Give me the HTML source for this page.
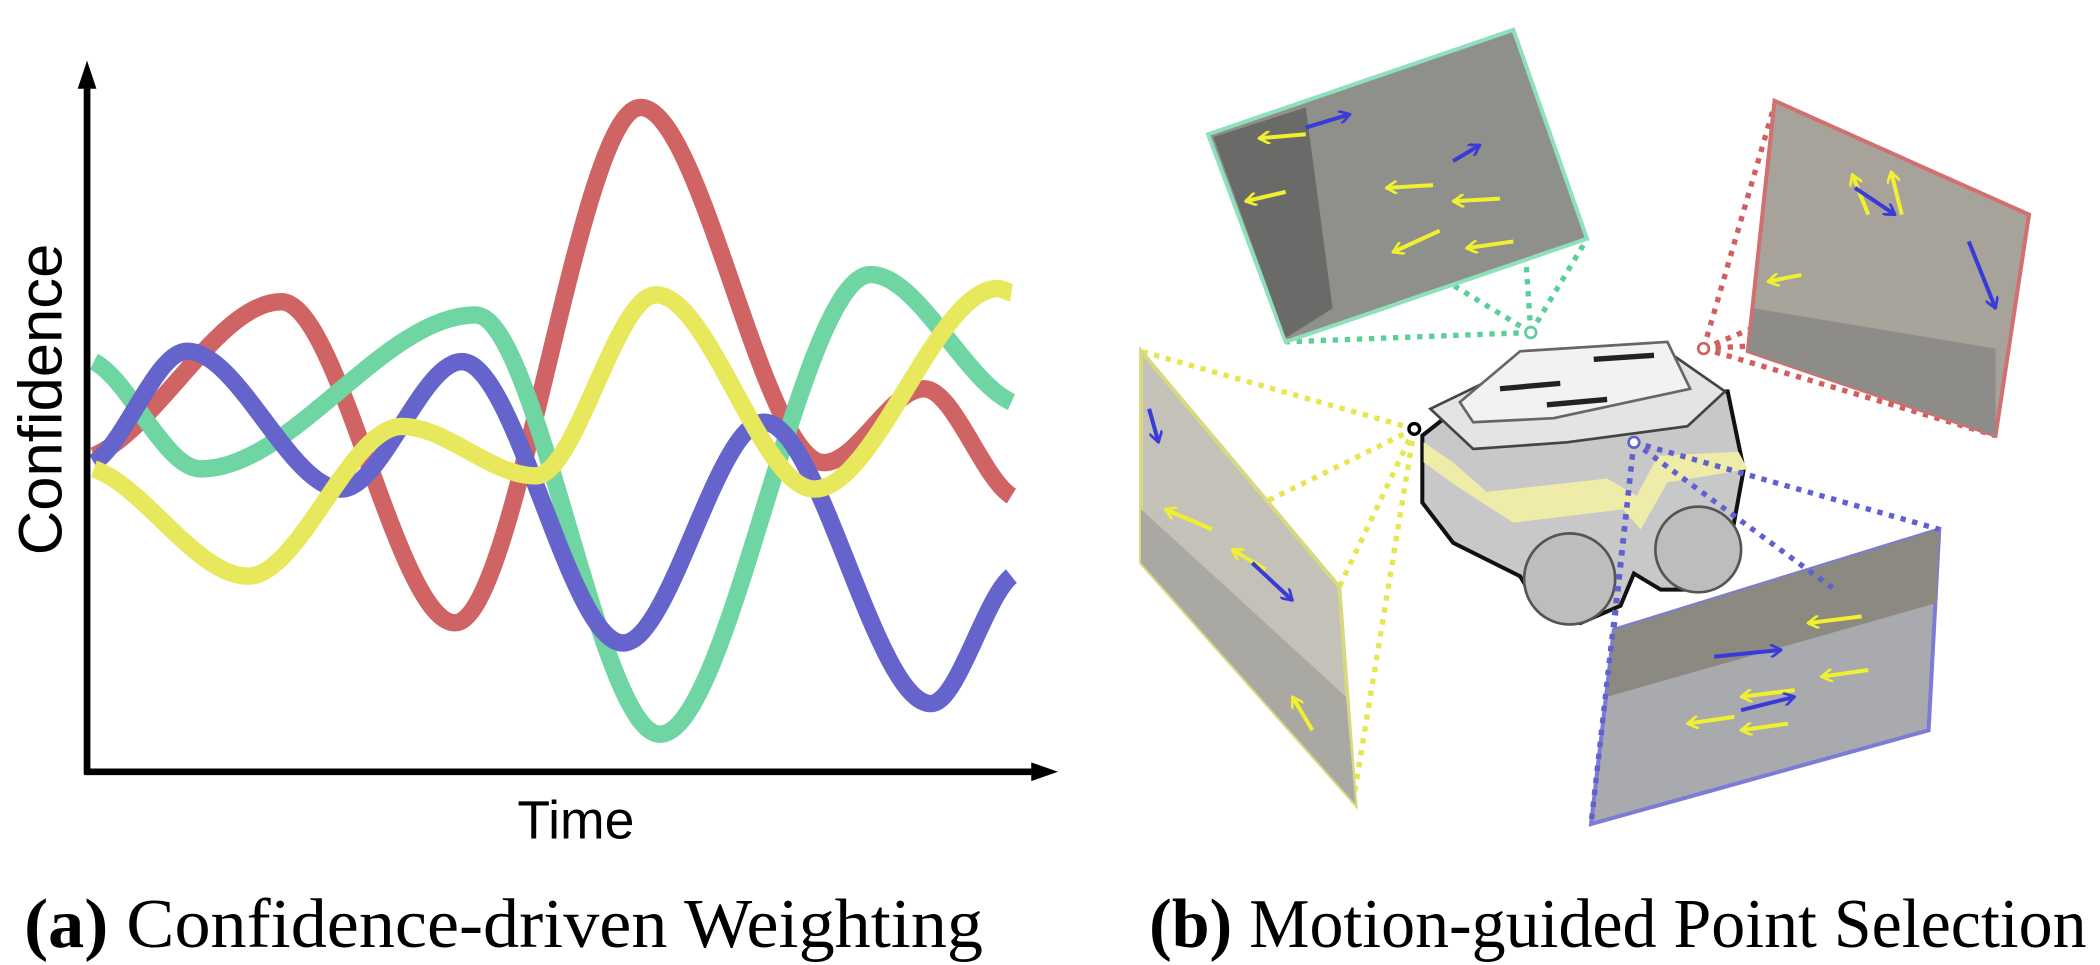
<!DOCTYPE html>
<html><head><meta charset="utf-8"><style>
html,body{margin:0;padding:0;background:#fff;}
svg{display:block;}
</style></head><body>
<svg width="2100" height="965" viewBox="0 0 1568 720" xmlns="http://www.w3.org/2000/svg">
<defs>
<marker id="ah" markerWidth="20" markerHeight="16" refX="4" refY="8" orient="auto" markerUnits="userSpaceOnUse"><path d="M0,0 L20,8 L0,16 z" fill="#000"/></marker>
<marker id="ya" markerWidth="10" markerHeight="10" refX="1" refY="5" orient="auto" markerUnits="userSpaceOnUse"><path d="M9,0 L1,5 L9,10" fill="none" stroke="#f0f030" stroke-width="2"/></marker>
<marker id="ba" markerWidth="10" markerHeight="10" refX="9" refY="5" orient="auto" markerUnits="userSpaceOnUse"><path d="M1,0 L9,5 L1,10" fill="none" stroke="#3a3ad8" stroke-width="2"/></marker>
</defs>

<g id="chart"></g>
<line x1="65" y1="578" x2="65" y2="62" stroke="#000" stroke-width="5"/>
<polygon points="58,66 65,45 72,66" fill="#000"/>
<line x1="63" y1="576" x2="775" y2="576" stroke="#000" stroke-width="5"/>
<polygon points="770,569 790,576 770,583" fill="#000"/>
<text transform="translate(46,298) rotate(-90)" text-anchor="middle" font-family="Liberation Sans, sans-serif" font-size="46">Confidence</text>
<text x="430" y="626" text-anchor="middle" font-family="Liberation Sans, sans-serif" font-size="40">Time</text>
<text x="18" y="707" font-family="Liberation Serif, serif" font-size="52" textLength="716" lengthAdjust="spacingAndGlyphs"><tspan font-weight="bold">(a)</tspan> Confidence-driven Weighting</text>
<text x="858" y="707" font-family="Liberation Serif, serif" font-size="52" textLength="700" lengthAdjust="spacingAndGlyphs"><tspan font-weight="bold">(b)</tspan> Motion-guided Point Selection</text>

<g>
<g stroke="#5ccf98" stroke-width="4" stroke-dasharray="4 5" fill="none">
<line x1="1143" y1="248" x2="960" y2="255"/><line x1="1143" y1="248" x2="1185" y2="178"/><line x1="1143" y1="248" x2="1128" y2="25"/><line x1="1143" y1="248" x2="905" y2="103"/>
</g>
<g stroke="#d06060" stroke-width="4" stroke-dasharray="4 5" fill="none">
<line x1="1272" y1="260" x2="1325" y2="78"/><line x1="1272" y1="260" x2="1513" y2="160"/><line x1="1272" y1="260" x2="1490" y2="325"/><line x1="1272" y1="260" x2="1308" y2="258"/>
</g>
<g stroke="#e6e650" stroke-width="4" stroke-dasharray="4 5" fill="none">
<line x1="1056" y1="320" x2="852" y2="262"/><line x1="1056" y1="320" x2="1000" y2="438"/><line x1="1056" y1="320" x2="1010" y2="600"/><line x1="1056" y1="320" x2="852" y2="420"/>
</g>
<polygon points="902,100 1130,22 1185,178 960,255" fill="#8f8f8c" stroke="#8fe0bd" stroke-width="3"/>
<polygon points="906,102 975,80 995,230 960,252" fill="#6a6a68"/>
<polygon points="1325,75 1515,160 1490,325 1305,262" fill="#a8a39a" stroke="#d07070" stroke-width="3"/>
<polygon points="1310,230 1490,260 1490,325 1305,262" fill="#8e8c88"/>
<polygon points="852,262 1000,438 1012,600 852,420" fill="#c4c1b8" stroke="#d8d880" stroke-width="3"/>
<polygon points="852,380 1005,520 1012,600 852,420" fill="#aaa8a2"/>
<polygon points="1205,470 1448,395 1440,545 1188,615" fill="#a9aaad" stroke="#7c7cd6" stroke-width="3"/>
<polygon points="1205,470 1448,395 1446,450 1200,520" fill="#8c8a80"/>
<g stroke="#f0f030" stroke-width="3" fill="none" marker-start="url(#ya)">
<line x1="940" y1="103" x2="975" y2="100"/><line x1="1035" y1="140" x2="1070" y2="138"/><line x1="1085" y1="150" x2="1120" y2="148"/><line x1="1095" y1="185" x2="1130" y2="180"/><line x1="1040" y1="188" x2="1075" y2="172"/><line x1="930" y1="150" x2="960" y2="143"/><line x1="1320" y1="210" x2="1345" y2="205"/><line x1="1383" y1="130" x2="1395" y2="160"/><line x1="1412" y1="128" x2="1420" y2="160"/><line x1="870" y1="380" x2="905" y2="395"/><line x1="920" y1="410" x2="945" y2="425"/><line x1="965" y1="520" x2="980" y2="545"/><line x1="1260" y1="540" x2="1295" y2="535"/><line x1="1300" y1="545" x2="1335" y2="540"/><line x1="1300" y1="520" x2="1340" y2="515"/><line x1="1350" y1="465" x2="1390" y2="460"/><line x1="1360" y1="505" x2="1395" y2="500"/>
</g>
<g stroke="#3a3ad8" stroke-width="3" fill="none" marker-end="url(#ba)">
<line x1="975" y1="95" x2="1008" y2="85"/><line x1="1085" y1="120" x2="1105" y2="108"/><line x1="1385" y1="140" x2="1415" y2="160"/><line x1="1470" y1="180" x2="1490" y2="230"/><line x1="858" y1="305" x2="865" y2="330"/><line x1="935" y1="420" x2="965" y2="448"/><line x1="1280" y1="490" x2="1330" y2="485"/><line x1="1300" y1="530" x2="1340" y2="520"/>
</g>
<polygon points="1062,325 1100,295 1290,292 1302,350 1292,405 1270,440 1240,440 1220,428 1210,452 1180,465 1150,455 1135,430 1085,405 1062,375" fill="#c8c8c8" stroke="#111" stroke-width="3"/>
<circle cx="1172" cy="432" r="34" fill="#bdbdbd" stroke="#555" stroke-width="2"/>
<circle cx="1268" cy="410" r="32" fill="#bdbdbd" stroke="#555" stroke-width="2"/>
<polygon points="1063,330 1085,345 1110,367 1200,357 1222,370 1238,340 1298,337 1305,350 1245,360 1225,395 1212,380 1130,390 1088,363 1063,345" fill="#eeeca8"/>
<polygon points="1068,305 1130,275 1245,262 1288,292 1260,318 1170,330 1100,335" fill="#e4e4e4" stroke="#444" stroke-width="2"/>
<polygon points="1090,300 1135,262 1245,255 1262,290 1160,312 1100,315" fill="#f2f2f2" stroke="#666" stroke-width="2"/>
<line x1="1120" y1="290" x2="1165" y2="286" stroke="#222" stroke-width="4"/>
<line x1="1155" y1="302" x2="1200" y2="298" stroke="#222" stroke-width="4"/>
<line x1="1190" y1="268" x2="1235" y2="265" stroke="#222" stroke-width="4"/>
<g stroke="#6060d0" stroke-width="4" stroke-dasharray="4 5" fill="none">
<line x1="1220" y1="330" x2="1448" y2="395"/><line x1="1220" y1="330" x2="1370" y2="440"/><line x1="1220" y1="330" x2="1205" y2="470"/><line x1="1220" y1="330" x2="1188" y2="615"/>
</g>
<circle cx="1143" cy="248" r="4" fill="#fff" stroke="#5ccf98" stroke-width="2"/>
<circle cx="1272" cy="260" r="4" fill="#fff" stroke="#d06060" stroke-width="2"/>
<circle cx="1056" cy="320" r="4" fill="#fff" stroke="#000" stroke-width="2.5"/>
<circle cx="1220" cy="330" r="4" fill="#fff" stroke="#6060d0" stroke-width="2"/>
</g>
</svg>
<script>
// data (time 0..100, confidence 0..100)
const redT = [0.7, 20, 37.9, 57, 75.9, 86.2, 95.2];
const redC = [45.2, 67.3, 21.2, 95.2, 44.2, 54.8, 39.4];
const greenT = [0.7, 11.7, 40, 59, 80.7, 95.2];
const greenC = [58.7, 43.3, 65.4, 5.2, 71.2, 52.9];
const blueT = [0.7, 10.3, 26.2, 38.6, 55.2, 69.7, 86.9, 95.2];
const blueC = [44.2, 60.2, 40.4, 58.7, 18.3, 50, 9.6, 27.9];
const yellowT = [0.7, 16.6, 32.4, 46.2, 58.6, 74.9, 93.8, 95.2];
const yellowC = [43.3, 27.9, 49.4, 42.3, 68.3, 40.4, 69.2, 68.6];

const xS = t => 65 + t * 7.25;
const yS = c => 575 - c * 5.2;
function pathFor(T, C) {
  const X = T.map(xS), Y = C.map(yS), n = X.length;
  const m = X.map((x, i) => {
    if (i === 0) return (Y[1] - Y[0]) / (X[1] - X[0]) * 0.5;
    if (i === n - 1) return (Y[n-1] - Y[n-2]) / (X[n-1] - X[n-2]) * 0.5;
    const a = Y[i] - Y[i-1], b = Y[i+1] - Y[i];
    if (a * b <= 0) return 0;
    return ((a / (X[i] - X[i-1])) + (b / (X[i+1] - X[i]))) / 2;
  });
  let d = `M${X[0]},${Y[0]}`;
  for (let i = 0; i < n - 1; i++) {
    const dx = (X[i+1] - X[i]) / 3;
    d += ` C${X[i]+dx},${Y[i]+m[i]*dx} ${X[i+1]-dx},${Y[i+1]-m[i+1]*dx} ${X[i+1]},${Y[i+1]}`;
  }
  return d;
}
const g = document.getElementById('chart');
const NS = 'http://www.w3.org/2000/svg';
[['red', redT, redC, '#d06464'], ['green', greenT, greenC, '#6fd5a2'],
 ['blue', blueT, blueC, '#6464cc'], ['yellow', yellowT, yellowC, '#e8e85c']].forEach(s => {
  const p = document.createElementNS(NS, 'path');
  p.setAttribute('d', pathFor(s[1], s[2]));
  p.setAttribute('fill', 'none');
  p.setAttribute('stroke', s[3]);
  p.setAttribute('stroke-width', '13');
  
  
  g.appendChild(p);
});
</script>
</body></html>
